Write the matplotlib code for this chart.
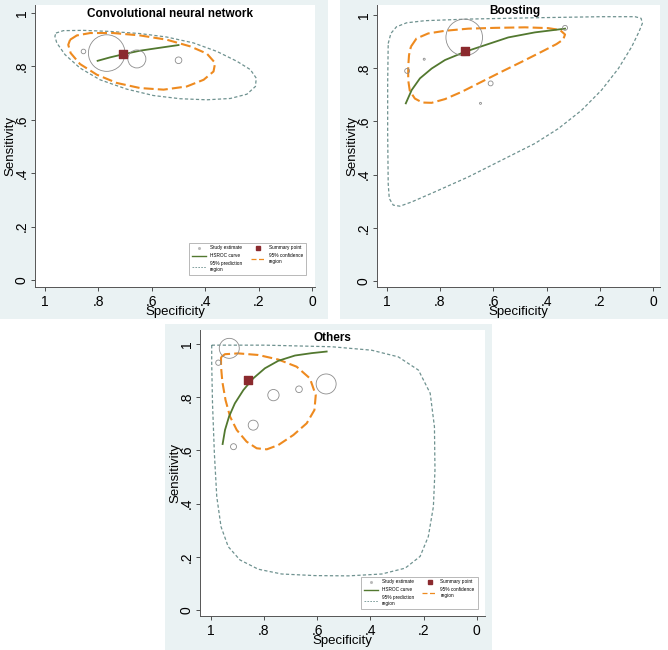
import matplotlib
matplotlib.use('Agg')
import matplotlib.pyplot as plt
from matplotlib.lines import Line2D
from matplotlib.patches import Rectangle

plt.rcParams['font.family'] = ['Liberation Sans', 'DejaVu Sans']

# ---- data ----
tick_values = [1, 0.8, 0.6, 0.4, 0.2, 0]
tick_labels = ['1', '.8', '.6', '.4', '.2', '0']

# Convolutional neural network
cnn_study_spec = [0.856, 0.769, 0.656, 0.500]
cnn_study_sens = [0.856, 0.850, 0.828, 0.823]
cnn_study_weight = [5.3, 335, 81, 11]
cnn_summary_spec = 0.709
cnn_summary_sens = 0.846
cnn_hsroc_spec = [0.803, 0.756, 0.709, 0.644, 0.569, 0.500]
cnn_hsroc_sens = [0.821, 0.834, 0.845, 0.859, 0.870, 0.880]
cnn_conf_spec = [0.906, 0.881, 0.831, 0.744, 0.644, 0.544, 0.456, 0.394, 0.363, 0.369,
                 0.406, 0.469, 0.556, 0.644, 0.731, 0.806, 0.869, 0.904, 0.913]
cnn_conf_sens = [0.900, 0.916, 0.925, 0.925, 0.916, 0.900, 0.875, 0.848, 0.813, 0.781,
                 0.750, 0.725, 0.713, 0.719, 0.738, 0.769, 0.809, 0.850, 0.881]
cnn_pred_spec = [0.959, 0.931, 0.856, 0.756, 0.644, 0.544, 0.444, 0.356, 0.281, 0.231,
                 0.209, 0.212, 0.244, 0.306, 0.394, 0.494, 0.594, 0.694, 0.794, 0.869,
                 0.925, 0.956, 0.963]
cnn_pred_sens = [0.925, 0.934, 0.935, 0.931, 0.923, 0.910, 0.888, 0.856, 0.819, 0.788,
                 0.756, 0.725, 0.696, 0.680, 0.675, 0.679, 0.691, 0.715, 0.750, 0.794,
                 0.844, 0.888, 0.913]

# Boosting
boost_study_spec = [0.709, 0.331, 0.923, 0.610, 0.859, 0.648]
boost_study_sens = [0.916, 0.952, 0.790, 0.743, 0.834, 0.668]
boost_study_weight = [335, 6, 6, 6, 1, 1]
boost_summary_spec = 0.706
boost_summary_sens = 0.866
boost_hsroc_spec = [0.928, 0.906, 0.875, 0.831, 0.781, 0.706, 0.631, 0.544, 0.444, 0.331]
boost_hsroc_sens = [0.668, 0.718, 0.762, 0.799, 0.831, 0.862, 0.887, 0.916, 0.935, 0.949]
boost_conf_spec = [0.909, 0.888, 0.844, 0.781, 0.694, 0.594, 0.481, 0.394, 0.350, 0.331,
                   0.338, 0.363, 0.419, 0.494, 0.569, 0.644, 0.719, 0.781, 0.831, 0.866,
                   0.894, 0.913, 0.919, 0.919, 0.916]
boost_conf_sens = [0.881, 0.912, 0.931, 0.941, 0.949, 0.952, 0.954, 0.951, 0.944, 0.927,
                   0.908, 0.891, 0.862, 0.824, 0.787, 0.749, 0.711, 0.684, 0.670, 0.671,
                   0.686, 0.715, 0.755, 0.806, 0.849]
boost_pred_spec = [0.994, 0.984, 0.963, 0.925, 0.856, 0.694, 0.444, 0.194, 0.069, 0.046,
                   0.041, 0.054, 0.081, 0.131, 0.194, 0.269, 0.356, 0.444, 0.569, 0.694,
                   0.819, 0.906, 0.950, 0.975, 0.990, 0.994, 0.996, 0.996]
boost_pred_sens = [0.893, 0.931, 0.956, 0.971, 0.979, 0.985, 0.990, 0.994, 0.994, 0.988,
                   0.969, 0.937, 0.881, 0.799, 0.718, 0.642, 0.573, 0.517, 0.454, 0.391,
                   0.335, 0.297, 0.281, 0.285, 0.310, 0.366, 0.555, 0.743]

# Others
other_study_spec = [0.930, 0.971, 0.764, 0.668, 0.566, 0.840, 0.914]
other_study_sens = [0.984, 0.930, 0.808, 0.830, 0.850, 0.695, 0.614]
other_study_weight = [100, 7, 32, 11, 100, 25, 9]
other_summary_spec = 0.858
other_summary_sens = 0.865
other_hsroc_spec = [0.955, 0.946, 0.931, 0.909, 0.877, 0.840, 0.796, 0.746, 0.683, 0.620, 0.564]
other_hsroc_sens = [0.624, 0.677, 0.727, 0.777, 0.827, 0.871, 0.909, 0.937, 0.957, 0.966, 0.972]
other_conf_spec = [0.961, 0.946, 0.896, 0.821, 0.746, 0.677, 0.627, 0.605, 0.610, 0.639,
                   0.689, 0.746, 0.789, 0.827, 0.865, 0.902, 0.927, 0.944, 0.956, 0.961]
other_conf_sens = [0.951, 0.962, 0.965, 0.959, 0.942, 0.915, 0.871, 0.808, 0.752, 0.702,
                   0.658, 0.620, 0.604, 0.608, 0.633, 0.677, 0.727, 0.789, 0.858, 0.915]
other_pred_spec = [0.996, 0.796, 0.545, 0.395, 0.295, 0.219, 0.175, 0.159, 0.157, 0.163,
                   0.182, 0.213, 0.269, 0.357, 0.482, 0.608, 0.733, 0.821, 0.890, 0.934,
                   0.961, 0.977, 0.986, 0.993, 0.996]
other_pred_sens = [0.996, 0.996, 0.990, 0.977, 0.952, 0.902, 0.815, 0.689, 0.526, 0.388,
                   0.276, 0.201, 0.157, 0.135, 0.128, 0.129, 0.135, 0.153, 0.188, 0.238,
                   0.313, 0.426, 0.589, 0.777, 0.927]

# ---- layout (pixels of the 668x650 picture) ----
W, H = 668, 650
BG = '#eaf2f3'
GREEN = '#52782f'
ORANGE = '#ee8a1f'
TEAL = '#6f9290'
RED = '#8b2a2e'
CIRC = '#8c8c8c'

panels = [
    dict(title='Convolutional neural network', bg=(0, 0, 328, 319), box=(35, 5, 315, 287),
         xlim=(1.0375, -0.011), ylim=(-0.026, 1.030), title_xy=(0.482, 0.968), legend=(0.975, 0.035),
         study=(cnn_study_spec, cnn_study_sens, cnn_study_weight),
         summary=(cnn_summary_spec, cnn_summary_sens),
         hsroc=(cnn_hsroc_spec, cnn_hsroc_sens),
         conf=(cnn_conf_spec, cnn_conf_sens),
         pred=(cnn_pred_spec, cnn_pred_sens)),
    dict(title='Boosting', bg=(340, 0, 668, 319), box=(377, 5, 660, 287),
         xlim=(1.036, -0.025), ylim=(-0.023, 1.038), title_xy=(0.488, 0.980), legend=None,
         study=(boost_study_spec, boost_study_sens, boost_study_weight),
         summary=(boost_summary_spec, boost_summary_sens),
         hsroc=(boost_hsroc_spec, boost_hsroc_sens),
         conf=(boost_conf_spec, boost_conf_sens),
         pred=(boost_pred_spec, boost_pred_sens)),
    dict(title='Others', bg=(165, 324, 492, 650), box=(200, 330, 485, 616),
         xlim=(1.040, -0.031), ylim=(-0.023, 1.053), title_xy=(0.466, 0.971), legend=(0.982, 0.017),
         study=(other_study_spec, other_study_sens, other_study_weight),
         summary=(other_summary_spec, other_summary_sens),
         hsroc=(other_hsroc_spec, other_hsroc_sens),
         conf=(other_conf_spec, other_conf_sens),
         pred=(other_pred_spec, other_pred_sens)),
]


def fig_box(x0, y0, x1, y1):
    return [x0 / W, 1 - y1 / H, (x1 - x0) / W, (y1 - y0) / H]


fig = plt.figure(figsize=(W / 100, H / 100), dpi=100)
fig.patch.set_facecolor('white')

for p in panels:
    x0, y0, w, h = fig_box(*p['bg'])
    fig.add_artist(Rectangle((x0, y0), w, h, transform=fig.transFigure,
                             facecolor=BG, edgecolor='none', zorder=-1))
    ax = fig.add_axes(fig_box(*p['box']))
    ax.set_facecolor('white')

    # prediction region
    ps, pn = p['pred']
    ax.plot(ps + ps[:1], pn + pn[:1], color=TEAL, lw=0.9, linestyle=(0, (2.6, 1.8)), zorder=2)
    # confidence region
    cs, cn = p['conf']
    ax.plot(cs + cs[:1], cn + cn[:1], color=ORANGE, lw=1.5, linestyle=(0, (4.8, 2.0)), zorder=3)
    # HSROC curve
    hs, hn = p['hsroc']
    ax.plot(hs, hn, color=GREEN, lw=1.3, zorder=4)
    # study estimates
    ss, sn, sw = p['study']
    ax.scatter(ss, sn, s=[2.07 * w for w in sw], facecolors='none', edgecolors=CIRC,
               linewidths=0.6, zorder=5)
    # summary point
    ax.scatter([p['summary'][0]], [p['summary'][1]], marker='s', s=36, color=RED, zorder=6)

    ax.set_xlim(*p['xlim'])
    ax.set_ylim(*p['ylim'])
    ax.set_xticks(tick_values, tick_labels)
    ax.set_yticks(tick_values, tick_labels)
    for lab in ax.get_yticklabels():
        lab.set_rotation(90)
        lab.set_va('center')
    ax.tick_params(direction='out', length=3, width=0.6, color='#333333', labelsize=10, pad=2.5)
    ax.tick_params(axis='y', pad=1.5)
    for side in ['top', 'right']:
        ax.spines[side].set_visible(False)
    for side in ['left', 'bottom']:
        ax.spines[side].set_color('#555555')
        ax.spines[side].set_linewidth(0.7)

    bw = p['box'][2] - p['box'][0]
    bh = p['box'][3] - p['box'][1]
    ax.set_xlabel('Specificity', fontsize=9.5, va='center')
    ax.xaxis.set_label_coords(0.5, -25 / bh)
    ax.set_ylabel('Sensitivity', fontsize=9.5, va='center')
    ax.yaxis.set_label_coords(-25 / bw, 0.5)

    ax.text(p['title_xy'][0], p['title_xy'][1], p['title'], transform=ax.transAxes,
            ha='center', va='center', fontsize=8.5, fontweight='bold')

    if p['legend'] is not None:
        handles = [
            Line2D([], [], marker='o', linestyle='none', markersize=1.2, color='#bbbbbb'),
            Line2D([], [], color=GREEN, lw=1.0),
            Line2D([], [], color=TEAL, lw=0.6, linestyle=(0, (2, 1.5))),
            Line2D([], [], marker='s', linestyle='none', markersize=2.8, color=RED),
            Line2D([], [], color=ORANGE, lw=0.9, linestyle=(0, (4, 2))),
        ]
        labels = ['Study estimate', 'HSROC curve', '95% prediction\nregion',
                  'Summary point', '95% confidence\nregion']
        leg = ax.legend(handles, labels, ncol=2, loc='lower right',
                        bbox_to_anchor=p['legend'], fontsize=3.4, frameon=True,
                        fancybox=False, edgecolor='#999999', handlelength=3.0,
                        handletextpad=0.8, columnspacing=1.8, borderpad=0.6,
                        labelspacing=0.6)
        leg.get_frame().set_linewidth(0.6)

fig.savefig('out.png', dpi=100, facecolor='white')
